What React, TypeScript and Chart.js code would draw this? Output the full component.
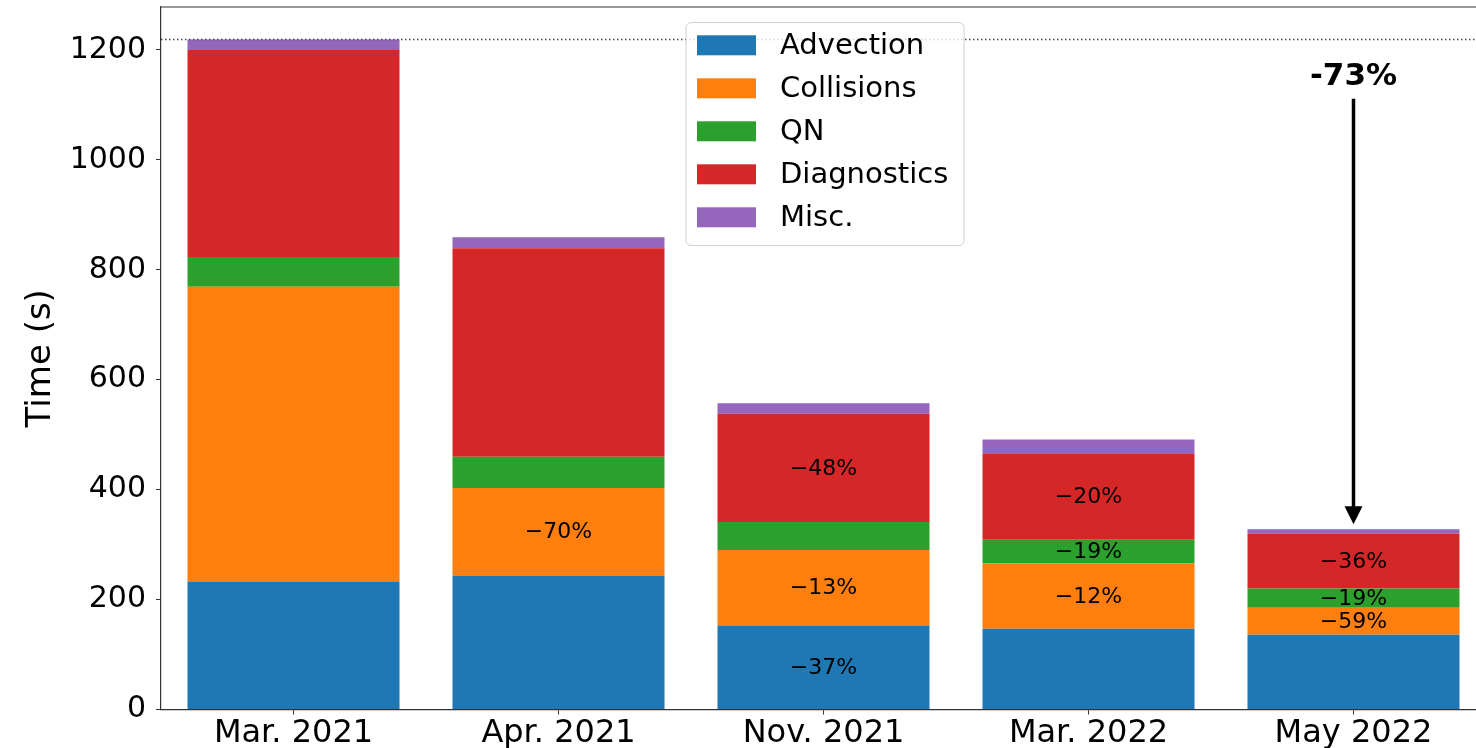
import { useEffect, useRef } from 'react';
import { Chart, registerables } from 'chart.js';

Chart.register(...registerables);

// ---- data ----
const categories = ['Mar. 2021', 'Apr. 2021', 'Nov. 2021', 'Mar. 2022', 'May 2022'];
const seriesNames = ['Advection', 'Collisions', 'QN', 'Diagnostics', 'Misc.'];
const advection = [233, 244, 153, 147, 136];
const collisions = [536, 159, 137, 119, 49];
const qn = [54, 57, 51, 43, 35];
const diagnostics = [377, 379, 197, 156, 100];
const misc = [19, 20, 19, 26, 8];

const advectionLabels = ['', '', '\u221237%', '', ''];
const collisionsLabels = ['', '\u221270%', '\u221213%', '\u221212%', '\u221259%'];
const qnLabels = ['', '', '', '\u221219%', '\u221219%'];
const diagnosticsLabels = ['', '', '\u221248%', '\u221220%', '\u221236%'];
const miscLabels = ['', '', '', '', ''];

const yTicks = [0, 200, 400, 600, 800, 1000, 1200];
const yMax = 1278;

const totalText = '-73%';
const arrowCategory = 4;
const arrowTextValue = 1151;
const arrowStartValue = 1111;
const arrowEndValue = 337;

const COLORS = ['#1f77b4', '#ff7f0e', '#2ca02c', '#d62728', '#9467bd'];
const FONT = 'DejaVu Sans';

const W = 1500;
const H = 748;

export default function App() {
  const ref = useRef<HTMLCanvasElement>(null);

  useEffect(() => {
    document.body.style.margin = '0';
    const values = [advection, collisions, qn, diagnostics, misc];
    const labels = [advectionLabels, collisionsLabels, qnLabels, diagnosticsLabels, miscLabels];
    const refValue = values.reduce((s, arr) => s + arr[0], 0);

    const overlay = {
      id: 'overlay',
      afterDatasetsDraw(chart: any) {
        const ctx = chart.ctx;
        const { chartArea } = chart;
        const xs = chart.scales.x;
        const ys = chart.scales.y;
        // segment labels
        ctx.save();
        ctx.fillStyle = '#000';
        ctx.font = `22px "${FONT}"`;
        ctx.textAlign = 'center';
        ctx.textBaseline = 'middle';
        labels.forEach((arr, i) => {
          const meta = chart.getDatasetMeta(i);
          arr.forEach((t, j) => {
            if (!t) return;
            const el = meta.data[j];
            ctx.fillText(t, el.x, (el.y + el.base) / 2 + 1);
          });
        });
        ctx.restore();

        // dotted reference line
        ctx.save();
        const yr = ys.getPixelForValue(refValue);
        ctx.strokeStyle = '#444';
        ctx.lineWidth = 1.5;
        ctx.setLineDash([1.5, 2.5]);
        ctx.beginPath();
        ctx.moveTo(chartArea.left, yr);
        ctx.lineTo(chartArea.right, yr);
        ctx.stroke();
        ctx.restore();

        // top spine
        ctx.save();
        ctx.strokeStyle = '#333';
        ctx.lineWidth = 1.2;
        ctx.beginPath();
        ctx.moveTo(chartArea.left, chartArea.top);
        ctx.lineTo(chartArea.right, chartArea.top);
        ctx.stroke();
        ctx.restore();

        // arrow + text
        ctx.save();
        const ax = xs.getPixelForValue(arrowCategory);
        const y1 = ys.getPixelForValue(arrowStartValue);
        const y2 = ys.getPixelForValue(arrowEndValue);
        const head = 18;
        ctx.strokeStyle = '#000';
        ctx.fillStyle = '#000';
        ctx.lineWidth = 3.5;
        ctx.beginPath();
        ctx.moveTo(ax, y1);
        ctx.lineTo(ax, y2 - head + 2);
        ctx.stroke();
        ctx.beginPath();
        ctx.moveTo(ax, y2);
        ctx.lineTo(ax - 9, y2 - head);
        ctx.lineTo(ax + 9, y2 - head);
        ctx.closePath();
        ctx.fill();
        ctx.font = `bold 31px "${FONT}"`;
        ctx.textAlign = 'center';
        ctx.textBaseline = 'middle';
        ctx.fillText(totalText, ax, ys.getPixelForValue(arrowTextValue));
        ctx.restore();
      },
      afterDraw(chart: any) {
        const ctx = chart.ctx;
        // legend
        const bx = 686, by = 22.5, bw = 278, bh = 223, r = 5;
        ctx.save();
        ctx.beginPath();
        ctx.moveTo(bx + r, by);
        ctx.lineTo(bx + bw - r, by);
        ctx.arcTo(bx + bw, by, bx + bw, by + r, r);
        ctx.lineTo(bx + bw, by + bh - r);
        ctx.arcTo(bx + bw, by + bh, bx + bw - r, by + bh, r);
        ctx.lineTo(bx + r, by + bh);
        ctx.arcTo(bx, by + bh, bx, by + bh - r, r);
        ctx.lineTo(bx, by + r);
        ctx.arcTo(bx, by, bx + r, by, r);
        ctx.closePath();
        ctx.fillStyle = 'rgba(255,255,255,0.8)';
        ctx.fill();
        ctx.strokeStyle = '#d0d0d0';
        ctx.lineWidth = 1;
        ctx.stroke();
        chart.data.datasets.forEach((ds: any, i: number) => {
          const cy = 45.3 + i * 43;
          ctx.fillStyle = ds.backgroundColor;
          ctx.fillRect(697, cy - 10, 59, 20);
          ctx.fillStyle = '#000';
          ctx.font = `29px "${FONT}"`;
          ctx.textAlign = 'left';
          ctx.textBaseline = 'middle';
          ctx.fillText(ds.label, 780, cy + 1);
        });
        ctx.restore();
      },
    };

    const chart = new Chart(ref.current as HTMLCanvasElement, {
      type: 'bar',
      data: {
        labels: categories,
        datasets: values.map((v, i) => ({
          label: seriesNames[i],
          data: v,
          backgroundColor: COLORS[i],
          borderWidth: 0,
          barPercentage: 0.8,
          categoryPercentage: 1.0,
        })),
      },
      options: {
        responsive: false,
        animation: false,
        devicePixelRatio: 1,
        layout: { padding: { top: 7, right: W - 1486, left: 0, bottom: 0 } },
        plugins: {
          legend: { display: false },
          tooltip: { enabled: false },
        },
        scales: {
          x: {
            stacked: true,
            grid: { drawOnChartArea: false, drawTicks: true, tickLength: 5, color: '#333', offset: false },
            border: { display: true, color: '#333', width: 1.2 },
            ticks: {
              font: { family: FONT, size: 32 },
              color: '#000',
              padding: 0,
              maxRotation: 0,
              autoSkip: false,
            },
            afterFit: (s: any) => {
              s.height = 38.5;
              s.paddingLeft = 0;
              s.paddingRight = 0;
            },
          },
          y: {
            stacked: true,
            min: 0,
            max: yMax,
            afterBuildTicks: (s: any) => {
              s.ticks = yTicks.map((v) => ({ value: v }));
            },
            ticks: {
              font: { family: FONT, size: 30 },
              color: '#000',
              padding: 10,
              callback: (v: any) => String(v),
            },
            grid: { drawOnChartArea: false, drawTicks: true, tickLength: 5, color: '#333' },
            border: { display: true, color: '#333', width: 1.2 },
            title: {
              display: true,
              text: 'Time (s)',
              font: { family: FONT, size: 34 },
              color: '#000',
              padding: { top: 21, bottom: 0 },
            },
            afterFit: (s: any) => {
              s.width = 161;
              s.paddingTop = 0;
              s.paddingBottom = 0;
            },
          },
        },
      },
      plugins: [overlay],
    } as any);
    return () => chart.destroy();
  }, []);

  return (
    <div
      style={{
        position: 'fixed',
        left: 0,
        top: 0,
        width: 1476,
        height: 748,
        overflow: 'hidden',
        background: '#fff',
      }}
    >
      <canvas ref={ref} width={W} height={H} style={{ width: W, height: H, display: 'block' }} />
    </div>
  );
}
